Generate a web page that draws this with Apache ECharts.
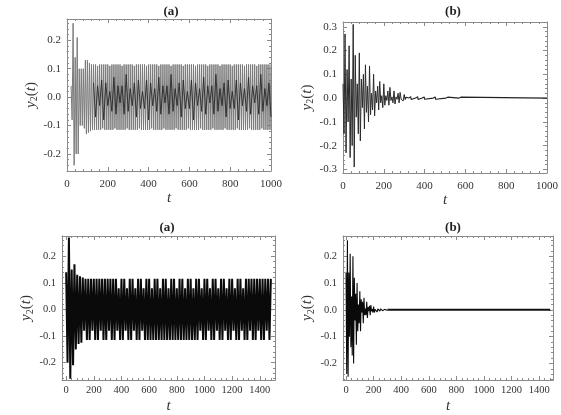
<!DOCTYPE html>
<html lang="en">
<head>
<meta charset="UTF-8" />
<title>y2(t)</title>
<script src="https://cdn.jsdelivr.net/npm/echarts@6/dist/echarts.min.js"></script>
<style>html,body{margin:0;background:#fff;}</style>
</head>
<body>
<div id="main" style="width:561px;height:415px;"></div>
<script>
// tick values
var ticks1000 = [0, 200, 400, 600, 800, 1000];
var ticks1500 = [0, 200, 400, 600, 800, 1000, 1200, 1400];
var ticksY2 = [-0.2, -0.1, 0, 0.1, 0.2];
var ticksY3 = [-0.3, -0.2, -0.1, 0, 0.1, 0.2, 0.3];

// top (a): outer swing of y2, every 5 from t = 20
var topAStart = 20, topAStep = 5;
var topA = [
  0.04, -0.08, 0.26, -0.24, 0.14, -0.2, 0.21, -0.2, 0.1, -0.1, 0.1,
  -0.1, 0.1, -0.11, 0.13, -0.13, 0.13, -0.125, 0.12, -0.12, 0.115, -0.115,
  0.115, -0.115, 0.115, -0.115, 0.11, -0.115, 0.115, -0.115, 0.115, -0.11,
  0.115, -0.115, 0.115, -0.115, 0.115, -0.115, 0.11, -0.115, 0.115, -0.115,
  0.115, -0.11, 0.115, -0.115, 0.115, -0.115, 0.115, -0.115, 0.11, -0.115,
  0.115, -0.115, 0.115, -0.11, 0.115, -0.115, 0.115, -0.115, 0.115, -0.115,
  0.11, -0.115, 0.115, -0.115, 0.115, -0.11, 0.115, -0.115, 0.115, -0.115,
  0.115, -0.115, 0.11, -0.115, 0.115, -0.115, 0.115, -0.11, 0.115, -0.115,
  0.115, -0.115, 0.115, -0.115, 0.11, -0.115, 0.115, -0.115, 0.115, -0.11,
  0.115, -0.115, 0.115, -0.115, 0.115, -0.115, 0.11, -0.115, 0.115, -0.115,
  0.115, -0.11, 0.115, -0.115, 0.115, -0.115, 0.115, -0.115, 0.11, -0.115,
  0.115, -0.115, 0.115, -0.11, 0.115, -0.115, 0.115, -0.115, 0.115, -0.115,
  0.11, -0.115, 0.115, -0.115, 0.115, -0.11, 0.115, -0.115, 0.115, -0.115,
  0.115, -0.115, 0.11, -0.115, 0.115, -0.115, 0.115, -0.11, 0.115, -0.115,
  0.115, -0.115, 0.115, -0.115, 0.11, -0.115, 0.115, -0.115, 0.115, -0.11,
  0.115, -0.115, 0.115, -0.115, 0.115, -0.115, 0.11, -0.115, 0.115, -0.115,
  0.115, -0.11, 0.115, -0.115, 0.115, -0.115, 0.115, -0.115, 0.11, -0.115,
  0.115, -0.115, 0.115, -0.11, 0.115, -0.115, 0.115, -0.115, 0.115, -0.115,
  0.11, -0.115, 0.115, -0.115, 0.115, -0.11, 0.115, -0.115, 0.115, -0.115,
  0.115, -0.115, 0.115, -0.115, 0.115
];
// top (a): dark inner part of the same signal, every 10 from t = 130
var topACoreStart = 130, topACoreStep = 10;
var topACore = [
  0.05, -0.07, 0.04, -0.03, 0.06, -0.08, 0.05, -0.03, 0.02, -0.05,
  0.07, -0.06, 0.04, -0.02, 0.04, -0.06, 0.08, -0.05, 0.03, -0.03,
  0.05, -0.07, 0.06, -0.04, 0.02, -0.04, 0.06, -0.08, 0.05, -0.03,
  0.03, -0.05, 0.07, -0.06, 0.04, -0.02, 0.04, -0.06, 0.08, -0.05,
  0.03, -0.03, 0.05, -0.07, 0.06, -0.04, 0.02, -0.04, 0.06, -0.08,
  0.05, -0.03, 0.03, -0.05, 0.07, -0.06, 0.04, -0.02, 0.04, -0.06,
  0.08, -0.05, 0.03, -0.03, 0.05, -0.07, 0.06, -0.04, 0.02, -0.04,
  0.06, -0.08, 0.05, -0.03, 0.03, -0.05, 0.07, -0.06, 0.04, -0.02,
  0.04, -0.06, 0.08, -0.05, 0.03, -0.03, 0.05, -0.07
];

// top (b): y2 every 5 from t = 0, then the small beads of the tail
var topBStart = 0, topBStep = 5;
var topB = [
  0.06, -0.15, 0.27, -0.23, 0.12, -0.1, 0.22, -0.25, 0.08, -0.2,
  0.31, -0.29, 0.18, -0.08, 0.06, -0.15, 0.19, -0.18, 0.08, -0.04,
  0.1, -0.13, 0.14, -0.06, 0.05, -0.1, 0.135, -0.07, 0.02, -0.05,
  0.1, -0.075, 0.03, -0.02, 0.05, -0.05, 0.07, -0.02, 0.01, -0.04,
  0.06, -0.03, 0.01, -0.01, 0.03, -0.03, 0.045, -0.01, 0.005, -0.02,
  0.03, -0.025, 0.005, -0.005, 0.02, -0.02, 0.024, -0.005, 0.003, -0.012,
  0.015
];
var topBTail = [
  [300, 0.015], [305, -0.006], [310, 0.004], [315, -0.002], [322, 0],
  [324, 0.006], [326, -0.006], [328, 0.006], [330, -0.006], [332, 0.006], [334, -0.006], [336, 0],
  [356, 0], [358, 0.006], [360, -0.006], [362, 0.006], [364, -0.006], [366, 0.006], [368, -0.006], [370, 0],
  [388, 0], [390, 0.005], [392, -0.005], [394, 0.005], [396, -0.005], [398, 0.005], [400, -0.005], [402, 0],
  [442, 0], [444, 0.005], [446, -0.005], [448, 0.005], [450, -0.005], [452, 0.005], [454, -0.005], [456, 0],
  [504, 0], [506, 0.004], [508, -0.004], [510, 0.004], [512, -0.004], [514, 0.004], [516, -0.004], [518, 0],
  [568, 0], [570, 0.004], [572, -0.004], [574, 0.004], [576, -0.004], [578, 0.004], [580, -0.004], [582, 0],
  [1000, 0]
];

// bottom (a): y2 every 10 from t = 0
var botAStart = 0, botAStep = 10;
var botA = [
  0.14, -0.2, 0.27, -0.26, 0.15, -0.21, 0.17, -0.15, 0.13, -0.13,
  0.125, -0.125, 0.12, -0.08, 0.115, -0.115, 0.115, -0.115, 0.115, -0.08,
  0.115, -0.115, 0.115, -0.115, 0.115, -0.08, 0.115, -0.115, 0.115, -0.115,
  0.115, -0.08, 0.115, -0.115, 0.115, -0.115, 0.115, -0.08, 0.08, -0.115,
  0.115, -0.115, 0.115, -0.08, 0.08, -0.115, 0.115, -0.115, 0.115, -0.08,
  0.08, -0.115, 0.115, -0.115, 0.115, -0.08, 0.08, -0.115, 0.115, -0.115,
  0.115, -0.115, 0.08, -0.115, 0.115, -0.115, 0.115, -0.115, 0.08, -0.115,
  0.115, -0.115, 0.115, -0.115, 0.08, -0.115, 0.115, -0.115, 0.115, -0.115,
  0.08, -0.115, 0.115, -0.115, 0.115, -0.115, 0.08, -0.115, 0.115, -0.115,
  0.115, -0.115, 0.08, -0.115, 0.115, -0.115, 0.115, -0.08, 0.08, -0.115,
  0.115, -0.115, 0.115, -0.08, 0.08, -0.115, 0.115, -0.115, 0.115, -0.08,
  0.08, -0.115, 0.115, -0.115, 0.115, -0.08, 0.08, -0.115, 0.115, -0.115,
  0.115, -0.08, 0.08, -0.115, 0.115, -0.115, 0.115, -0.08, 0.08, -0.115,
  0.115, -0.115, 0.115, -0.08, 0.115, -0.115, 0.115, -0.115, 0.115, -0.08,
  0.115, -0.115, 0.115, -0.115, 0.115, -0.08, 0.115, -0.115, 0.115
];

// bottom (b): y2 every 5 from t = 0, then flat
var botBStart = 0, botBStep = 5;
var botB = [
  0.14, -0.24, 0.26, -0.25, 0.14, -0.1, 0.21, -0.14, 0.05, -0.17,
  0.2, -0.2, 0.12, -0.04, 0.06, -0.13, 0.1, -0.08, 0.02, -0.05,
  0.07, -0.08, 0.04, -0.01, 0.03, -0.05, 0.045, -0.02, 0.005, -0.02,
  0.03, -0.03, 0.01, -0.005, 0.015, -0.02, 0.018, -0.005, 0.003, -0.01,
  0.012, -0.01, 0.002, -0.004, 0.008, -0.008, 0.004, -0.002, 0.005, -0.005,
  0.004, -0.002, 0.003, -0.003, 0.003, -0.002, 0.002, -0.002, 0.002, -0.001,
  0
];
var botBTail = [[300, 0], [1480, 0]];

var SERIF = '"Liberation Serif", "DejaVu Serif", serif';
var TXT = '#333';
var FRAME = '#8a8a8a';

function pairs(start, step, vals) {
  return vals.map(function (v, i) { return [start + i * step, v]; });
}

function minorOf(major, lo, hi) {
  var step = (major[1] - major[0]) / 5, out = [];
  for (var k = Math.ceil(lo / step); k <= Math.floor(hi / step); k++) {
    if (k % 5 !== 0) out.push(Math.round(k * step * 1e6) / 1e6);
  }
  return out;
}

var panels = [
  { grid: { left: 67, top: 19, width: 204, height: 152 }, x: [0, 1000], y: [-0.26, 0.275],
    xt: ticks1000, yt: ticksY2, fs: 11, nameGap: 16, lMargin: 5, title: '(a)', tx: 171, ty: 12,
    lines: [{ data: pairs(topAStart, topAStep, topA), color: '#7a7a7a', w: 1 },
            { data: pairs(topACoreStart, topACoreStep, topACore), color: '#2a2a2a', w: 0.9 }] },
  { grid: { left: 343, top: 22, width: 204, height: 151 }, x: [0, 1000], y: [-0.315, 0.32],
    xt: ticks1000, yt: ticksY3, fs: 11, nameGap: 16, lMargin: 5, title: '(b)', tx: 453, ty: 12,
    lines: [{ data: pairs(topBStart, topBStep, topB), color: '#2a2a2a', w: 1 },
            { data: topBTail, color: '#222', w: 1.1 }] },
  { grid: { left: 62, top: 236, width: 213, height: 149 }, x: [-30, 1510], y: [-0.265, 0.276],
    xt: ticks1500, yt: ticksY2, fs: 10.5, nameGap: 19, lMargin: 2, title: '(a)', tx: 167, ty: 228,
    lines: [{ data: pairs(botAStart, botAStep, botA), color: '#0a0a0a', w: 2 }] },
  { grid: { left: 343, top: 236, width: 210, height: 148 }, x: [-22, 1500], y: [-0.262, 0.276],
    xt: ticks1500, yt: ticksY2, fs: 10.5, nameGap: 19, lMargin: 2, title: '(b)', tx: 453, ty: 228,
    lines: [{ data: pairs(botBStart, botBStep, botB), color: '#0a0a0a', w: 1.1 },
            { data: botBTail, color: '#111', w: 2 }] }
];

var grids = [], xAxes = [], yAxes = [], series = [], graphics = [];

panels.forEach(function (p, g) {
  grids.push(p.grid);
  var xMinor = minorOf(p.xt, p.x[0], p.x[1]);
  var yMinor = minorOf(p.yt, p.y[0], p.y[1]);
  function axis(pos, min, max, vals, len, line, extra) {
    var a = {
      gridIndex: g, type: 'value', position: pos, min: min, max: max,
      axisLine: { show: line, onZero: false, lineStyle: { color: FRAME, width: 1 } },
      axisTick: { show: true, inside: true, length: len, customValues: vals,
                  lineStyle: { color: FRAME, width: 1 } },
      axisLabel: { show: false },
      splitLine: { show: false }
    };
    return Object.assign(a, extra || {});
  }
  var labelStyle = { fontFamily: SERIF, fontSize: p.fs, color: TXT };
  xAxes.push(axis('bottom', p.x[0], p.x[1], p.xt, 4, true, {
    axisLabel: Object.assign({ show: true, customValues: p.xt, margin: p.lMargin + 3,
      formatter: function (v) { return String(v); } }, labelStyle),
    name: 't', nameLocation: 'middle', nameGap: p.nameGap,
    nameTextStyle: { fontFamily: SERIF, fontStyle: 'italic', fontSize: 15, color: TXT }
  }));
  xAxes.push(axis('bottom', p.x[0], p.x[1], xMinor, 2, false));
  xAxes.push(axis('top', p.x[0], p.x[1], p.xt, 4, true));
  xAxes.push(axis('top', p.x[0], p.x[1], xMinor, 2, false));

  yAxes.push(axis('left', p.y[0], p.y[1], p.yt, 4, true, {
    axisLabel: Object.assign({ show: true, customValues: p.yt, margin: 6,
      formatter: function (v) { return v.toFixed(1); } }, labelStyle),
    name: '{i|y}{s|2}{r|(}{i|t}{r|)}', nameLocation: 'middle', nameGap: 27,
    nameTextStyle: { rich: {
      i: { fontFamily: SERIF, fontStyle: 'italic', fontSize: 15, color: TXT },
      r: { fontFamily: SERIF, fontSize: 15, color: TXT },
      s: { fontFamily: SERIF, fontSize: 10, color: TXT, padding: [7, 0, 0, 0] }
    } }
  }));
  yAxes.push(axis('left', p.y[0], p.y[1], yMinor, 2, false));
  yAxes.push(axis('right', p.y[0], p.y[1], p.yt, 4, true));
  yAxes.push(axis('right', p.y[0], p.y[1], yMinor, 2, false));

  p.lines.forEach(function (l) {
    series.push({
      type: 'line', xAxisIndex: 4 * g, yAxisIndex: 4 * g, data: l.data,
      showSymbol: false, symbol: 'none', silent: true, clip: true,
      lineStyle: { color: l.color, width: l.w }
    });
  });

  graphics.push({
    type: 'text', x: p.tx, y: p.ty,
    style: { text: p.title, align: 'center', verticalAlign: 'middle',
             font: 'bold 13px ' + SERIF, fill: '#222' }
  });
});

var chart = echarts.init(document.getElementById('main'));
chart.setOption({
  animation: false,
  grid: grids,
  xAxis: xAxes,
  yAxis: yAxes,
  series: series,
  graphic: graphics
});
</script>
</body>
</html>
